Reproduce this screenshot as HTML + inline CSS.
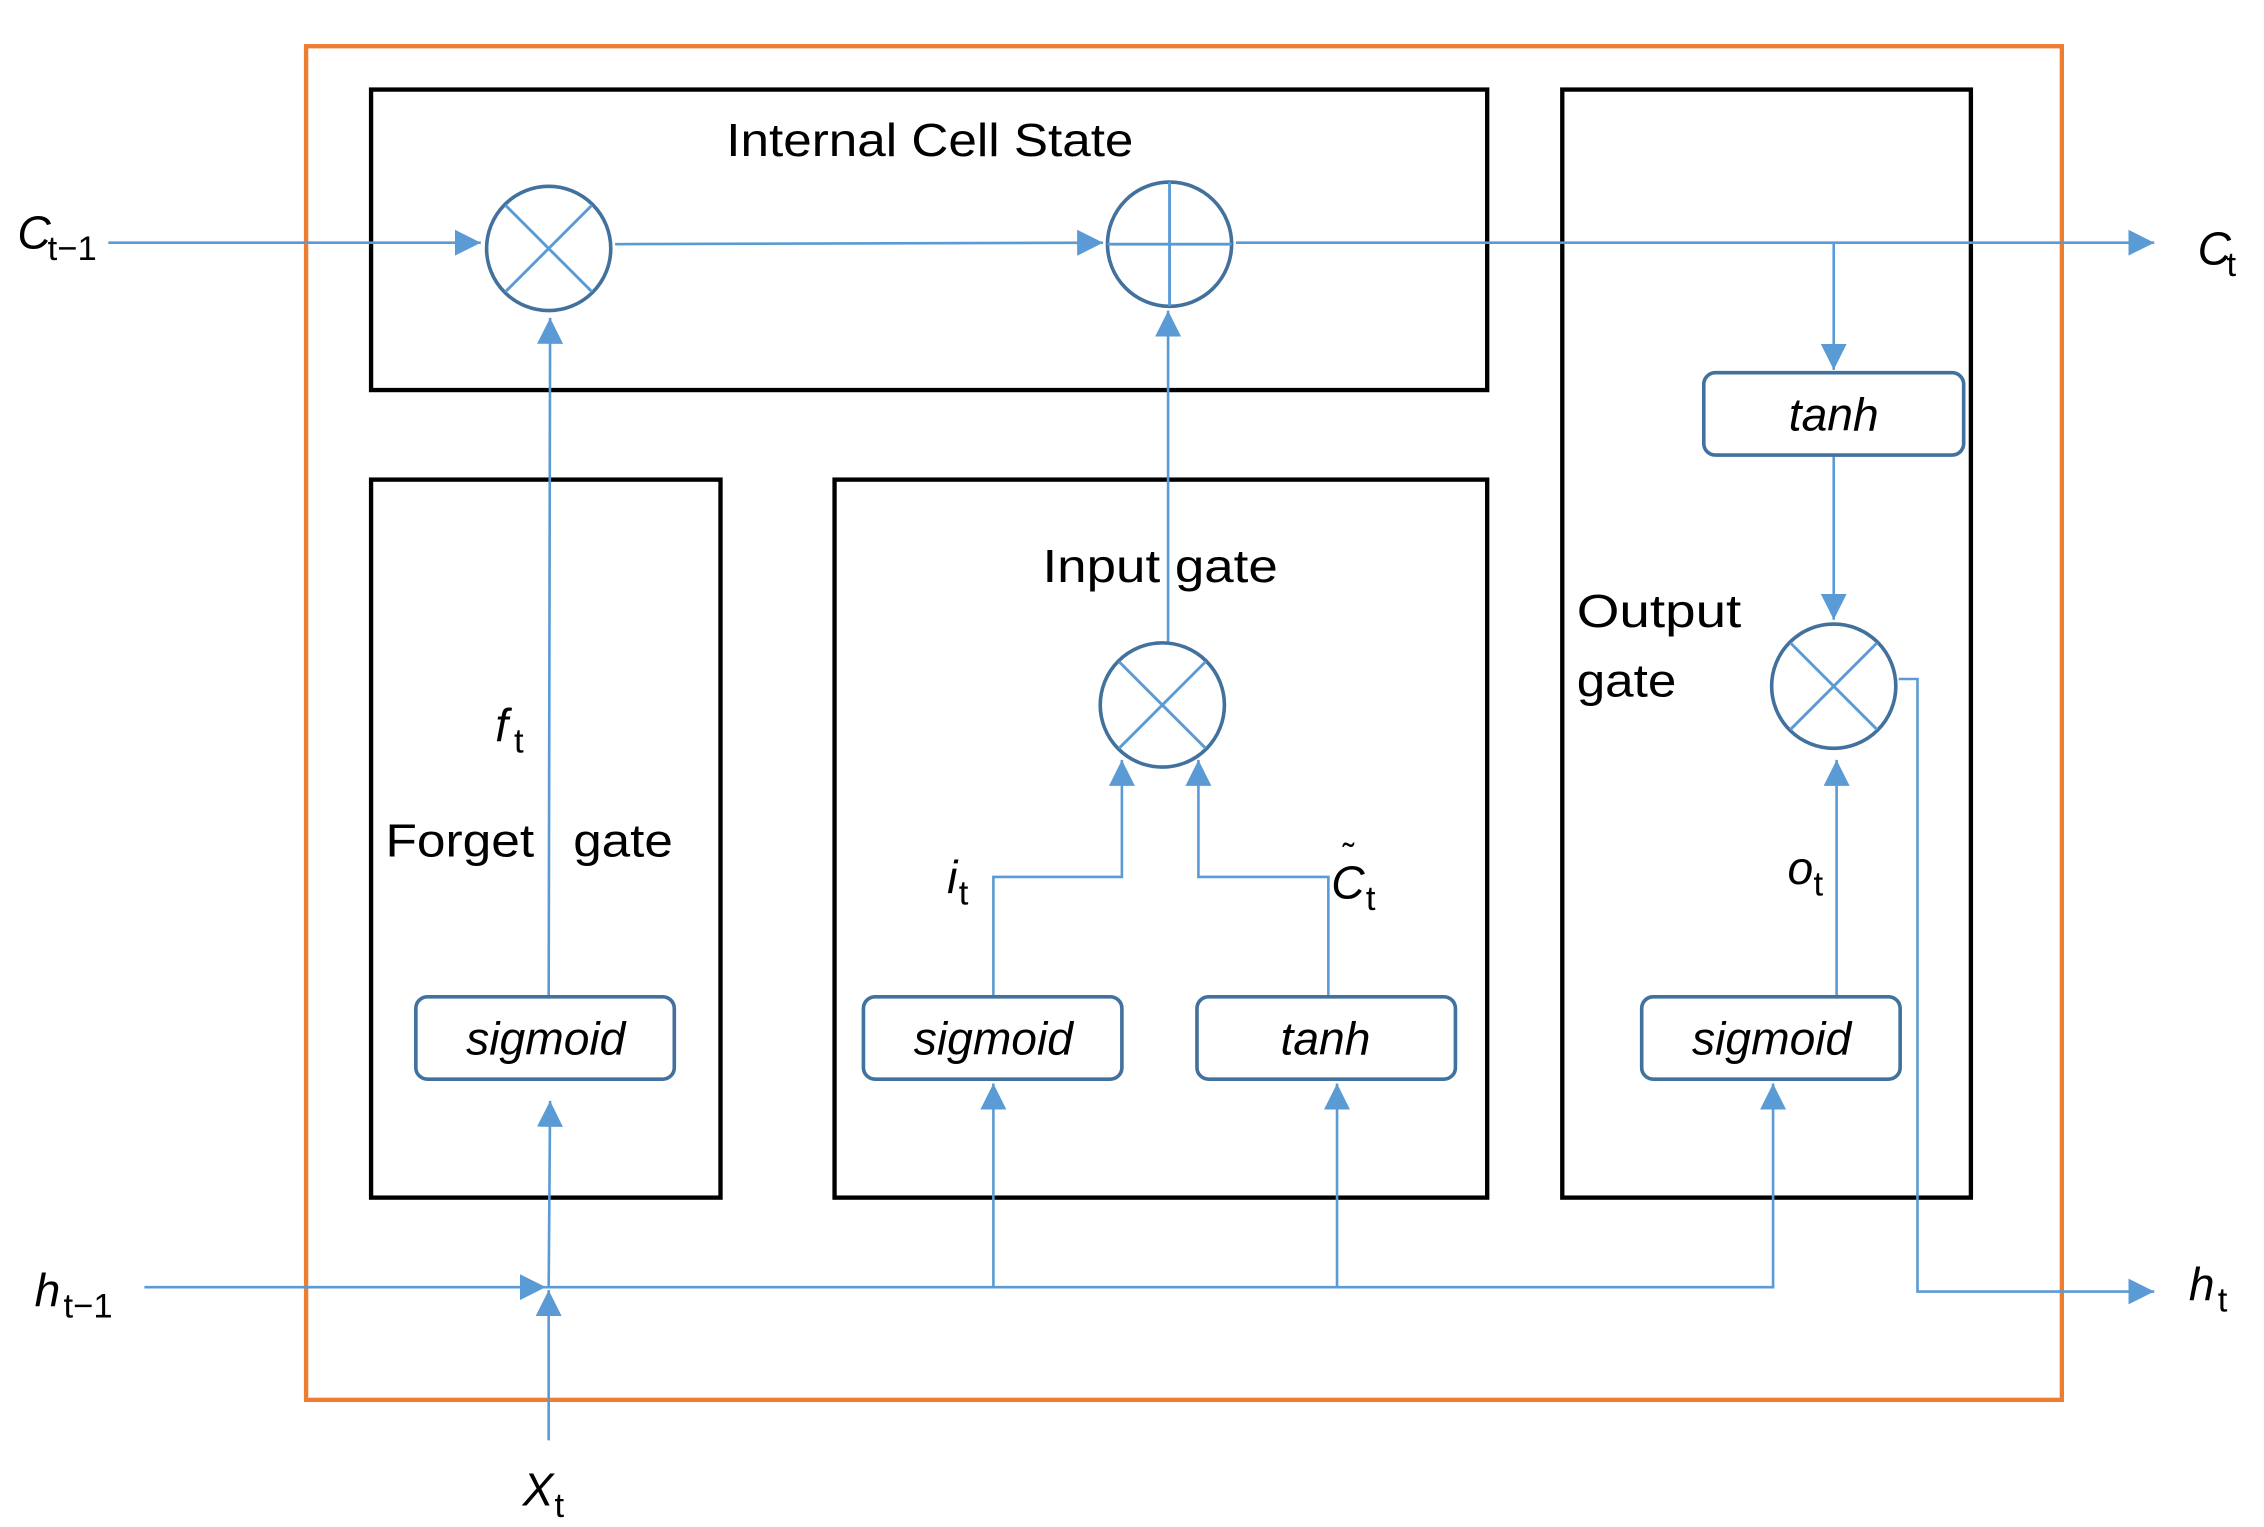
<!DOCTYPE html>
<html><head><meta charset="utf-8"><style>
html,body{margin:0;padding:0;background:#fff;}
svg{display:block;}
text{font-family:"Liberation Sans",sans-serif;fill:#000;}
</style></head><body>
<svg width="2264" height="1527" viewBox="0 0 1568 1057" preserveAspectRatio="none" xmlns="http://www.w3.org/2000/svg">
<defs>
<marker id="a" viewBox="0 0 10 10" refX="10" refY="5" markerWidth="18" markerHeight="18" markerUnits="userSpaceOnUse" orient="auto">
<path d="M0,0 L10,5 L0,10 z" fill="#5b9bd5"/></marker>
</defs>
<rect x="212" y="32" width="1216" height="937" fill="none" stroke="#ed7d31" stroke-width="3"/>
<g fill="none" stroke="#000" stroke-width="3">
<rect x="257" y="62" width="773" height="208"/>
<rect x="1082" y="62" width="283" height="767"/>
<rect x="257" y="332" width="242" height="497"/>
<rect x="578" y="332" width="452" height="497"/>
</g>
<g fill="none" stroke="#5b9bd5" stroke-width="1.8">
<line x1="75" y1="168" x2="333" y2="168" marker-end="url(#a)"/>
<line x1="426" y1="169" x2="764" y2="168" marker-end="url(#a)"/>
<line x1="856" y1="168" x2="1492" y2="168" marker-end="url(#a)"/>
<line x1="1270" y1="168" x2="1270" y2="256" marker-end="url(#a)"/>
<line x1="1270" y1="316" x2="1270" y2="429" marker-end="url(#a)"/>
<line x1="380" y1="690" x2="381" y2="220" marker-end="url(#a)"/>
<line x1="380" y1="891" x2="381" y2="762" marker-end="url(#a)"/>
<line x1="100" y1="891" x2="378" y2="891" marker-end="url(#a)"/>
<line x1="380" y1="997" x2="380" y2="893" marker-end="url(#a)"/>
<polyline points="378,891 1228,891 1228,750" marker-end="url(#a)"/>
<line x1="688" y1="891" x2="688" y2="750" marker-end="url(#a)"/>
<line x1="926" y1="891" x2="926" y2="750" marker-end="url(#a)"/>
<polyline points="688,690 688,607 777,607 777,526" marker-end="url(#a)"/>
<polyline points="920,690 920,607 830,607 830,526" marker-end="url(#a)"/>
<line x1="809" y1="444" x2="809" y2="215" marker-end="url(#a)"/>
<line x1="1272" y1="690" x2="1272" y2="526" marker-end="url(#a)"/>
<polyline points="1315,470 1328,470 1328,894 1492,894" marker-end="url(#a)"/>
</g>
<g fill="#fff" stroke="#41719c" stroke-width="2.5">
<circle cx="380" cy="172" r="43"/>
<circle cx="810" cy="169" r="43"/>
<circle cx="805" cy="488" r="43"/>
<circle cx="1270" cy="475" r="43"/>
</g>
<g stroke="#5b9bd5" stroke-width="2">
<line x1="350" y1="142" x2="410" y2="202"/><line x1="410" y1="142" x2="350" y2="202"/>
<line x1="767" y1="169" x2="853" y2="169"/><line x1="810" y1="126" x2="810" y2="212"/>
<line x1="775" y1="458" x2="835" y2="518"/><line x1="835" y1="458" x2="775" y2="518"/>
<line x1="1240" y1="445" x2="1300" y2="505"/><line x1="1300" y1="445" x2="1240" y2="505"/>
</g>
<g fill="#fff" stroke="#41719c" stroke-width="2.5">
<rect x="1180" y="258" width="180" height="57" rx="8"/>
<rect x="288" y="690" width="179" height="57" rx="8"/>
<rect x="598" y="690" width="179" height="57" rx="8"/>
<rect x="829" y="690" width="179" height="57" rx="8"/>
<rect x="1137" y="690" width="179" height="57" rx="8"/>
</g>
<g font-size="32" font-style="italic" text-anchor="middle">
<text x="1270" y="298">tanh</text>
<text x="378" y="730">sigmoid</text>
<text x="688" y="730">sigmoid</text>
<text x="918" y="730">tanh</text>
<text x="1227" y="730">sigmoid</text>
</g>
<g font-size="32">
<text x="503" y="108" textLength="282" lengthAdjust="spacingAndGlyphs">Internal Cell State</text>
<text x="722" y="403" textLength="163" lengthAdjust="spacingAndGlyphs">Input gate</text>
<text x="1092" y="434" textLength="114" lengthAdjust="spacingAndGlyphs">Output</text>
<text x="1092" y="482" textLength="69" lengthAdjust="spacingAndGlyphs">gate</text>
<text x="267" y="593" textLength="103" lengthAdjust="spacingAndGlyphs">Forget</text>
<text x="397" y="593" textLength="69" lengthAdjust="spacingAndGlyphs">gate</text>
</g>
<g font-size="32">
<text x="12" y="172" font-style="italic">C</text><text x="33" y="180" font-size="24">t−1</text>
<text x="1522" y="183" font-style="italic">C</text><text x="1542" y="191" font-size="24">t</text>
<text x="24" y="904" font-style="italic">h</text><text x="44" y="912" font-size="24">t−1</text>
<text x="1516" y="900" font-style="italic">h</text><text x="1536" y="908" font-size="24">t</text>
<text x="362" y="1042" font-style="italic">X</text><text x="384" y="1050" font-size="24">t</text>
<text x="343" y="513" font-style="italic">f</text><text x="356" y="521" font-size="24">t</text>
<text x="656" y="618" font-style="italic">i</text><text x="664" y="626" font-size="24">t</text>
<text x="922" y="622" font-style="italic">C</text><text x="930" y="600" font-size="24">˜</text><text x="946" y="630" font-size="24">t</text>
<text x="1238" y="612" font-style="italic">o</text><text x="1256" y="620" font-size="24">t</text>
</g>
</svg>
</body></html>
